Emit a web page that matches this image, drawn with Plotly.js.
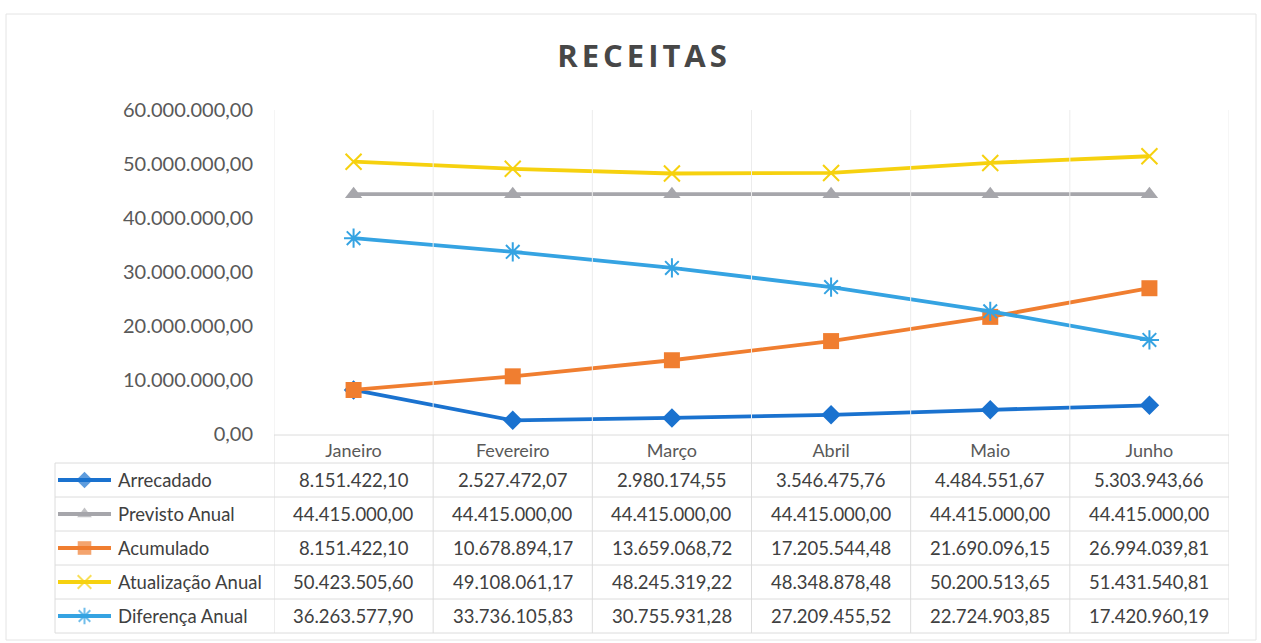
<!DOCTYPE html>
<html>
<head>
<meta charset="utf-8">
<script src="https://cdn.plot.ly/plotly-3.0.1.min.js"></script>
<style>
  html, body { margin: 0; padding: 0; background: #ffffff; }
  #chart { width: 1261px; height: 643px; }
</style>
</head>
<body>
<div id="chart"></div>
<script>
// ---- Data ----
const meses = ['Janeiro', 'Fevereiro', 'Março', 'Abril', 'Maio', 'Junho'];
const arrecadado = [8151422.10, 2527472.07, 2980174.55, 3546475.76, 4484551.67, 5303943.66];
const previstoAnual = [44415000.00, 44415000.00, 44415000.00, 44415000.00, 44415000.00, 44415000.00];
const acumulado = [8151422.10, 10678894.17, 13659068.72, 17205544.48, 21690096.15, 26994039.81];
const atualizacaoAnual = [50423505.60, 49108061.17, 48245319.22, 48348878.48, 50200513.65, 51431540.81];
const diferencaAnual = [36263577.90, 33736105.83, 30755931.28, 27209455.52, 22724903.85, 17420960.19];
const nomesSeries = ['Arrecadado', 'Previsto Anual', 'Acumulado', 'Atualização Anual', 'Diferença Anual'];
const yTicks = [0, 10000000, 20000000, 30000000, 40000000, 50000000, 60000000];

// ---- Styles ----
const W = 1261, H = 643;
const seriesData = [arrecadado, previstoAnual, acumulado, atualizacaoAnual, diferencaAnual];
const styles = [
  { color: '#1a72cf', symbol: 'diamond', size: 15, lw: 0 },
  { color: '#a6a6ab', symbol: 'triangle-up', size: 15, lw: 0 },
  { color: '#f07e30', symbol: 'square', size: 16, lw: 0 },
  { color: '#f6d10f', symbol: 'x-thin-open', size: 16, lw: 2 },
  { color: '#35a3e2', symbol: 'asterisk-open', size: 16, lw: 2 }
];

function fmtBR(v) {
  const neg = v < 0;
  const s = Math.abs(v).toFixed(2);
  const parts = s.split('.');
  const intPart = parts[0].replace(/\B(?=(\d{3})+(?!\d))/g, '.');
  return (neg ? '-' : '') + intPart + ',' + parts[1];
}

// plot geometry (pixels)
const plotL = 274, plotR = 1229, plotT = 110, plotB = 434;
const tableLeft = 55;
const rowLines = [463, 497, 531, 565, 599, 633];
const headerTop = 435;

const traces = [];
seriesData.forEach((vals, i) => {
  const st = styles[i];
  traces.push({
    type: 'scatter', mode: 'lines+markers',
    x: meses, y: vals, name: nomesSeries[i],
    xaxis: 'x', yaxis: 'y',
    line: { color: st.color, width: 3.8 },
    marker: { symbol: st.symbol, size: st.size, color: st.color,
              line: { color: st.color, width: st.lw } },
    showlegend: false, hoverinfo: 'x+y+name'
  });
});

// legend keys inside the data table
seriesData.forEach((vals, i) => {
  const st = styles[i];
  const yc = (rowLines[i] + rowLines[i + 1]) / 2;
  traces.push({
    type: 'scatter', mode: 'lines+markers',
    x: [58, 84.5, 111], y: [yc, yc, yc],
    xaxis: 'x2', yaxis: 'y2',
    line: { color: st.color, width: 3.8 },
    marker: { symbol: st.symbol, size: [0, st.size * 0.85, 0], color: st.color,
              line: { color: st.color, width: st.lw } },
    showlegend: false, hoverinfo: 'skip'
  });
});

const shapes = [];
const gridC = '#ececec', tableC = '#dcdcdc';
// faint vertical gridlines at category boundaries (plot area)
for (let k = 0; k <= meses.length; k++) {
  shapes.push({ type: 'line', xref: 'x', yref: 'y2', x0: k - 0.5, x1: k - 0.5,
    y0: plotT, y1: headerTop, line: { color: gridC, width: 1 } });
  shapes.push({ type: 'line', xref: 'x', yref: 'y2', x0: k - 0.5, x1: k - 0.5,
    y0: headerTop, y1: rowLines[rowLines.length - 1], line: { color: tableC, width: 1 } });
}
// header top line
shapes.push({ type: 'line', xref: 'x2', yref: 'y2', x0: plotL, x1: plotR, y0: headerTop, y1: headerTop,
  line: { color: tableC, width: 1 } });
// row lines
rowLines.forEach(y => {
  shapes.push({ type: 'line', xref: 'x2', yref: 'y2', x0: tableLeft, x1: plotR, y0: y, y1: y,
    line: { color: tableC, width: 1 } });
});
// left border of table
shapes.push({ type: 'line', xref: 'x2', yref: 'y2', x0: tableLeft, x1: tableLeft,
  y0: rowLines[0], y1: rowLines[rowLines.length - 1], line: { color: tableC, width: 1 } });
// chart outer border
shapes.push({ type: 'rect', xref: 'x2', yref: 'y2', x0: 6, x1: 1256, y0: 14, y1: 640,
  line: { color: '#e4e4e4', width: 1 }, layer: 'below' });

const annotations = [];
const textC = '#404040';
seriesData.forEach((vals, i) => {
  const yc = (rowLines[i] + rowLines[i + 1]) / 2;
  annotations.push({ xref: 'x2', yref: 'y2', x: 116, y: yc, xanchor: 'left', yanchor: 'middle',
    text: nomesSeries[i], showarrow: false,
    font: { family: 'Lato, sans-serif', size: 18.5, color: textC } });
  vals.forEach((v, j) => {
    annotations.push({ xref: 'x', yref: 'y2', x: j, y: yc, xanchor: 'center', yanchor: 'middle',
      text: fmtBR(v), showarrow: false,
      font: { family: 'Lato, sans-serif', size: 18.5, color: textC } });
  });
});

const layout = {
  width: W, height: H,
  margin: { l: 0, r: 0, t: 0, b: 0 },
  paper_bgcolor: '#ffffff', plot_bgcolor: 'rgba(0,0,0,0)',
  separators: ',.',
  showlegend: false,
  title: {
    text: 'RECEITAS', x: 644 / W, xanchor: 'center', y: 1 - 56 / H, yanchor: 'middle',
    font: { family: 'Open Sans, sans-serif', size: 31, color: '#474747', weight: 700 }
  },
  xaxis: {
    type: 'category', categoryorder: 'array', categoryarray: meses,
    domain: [plotL / W, plotR / W], range: [-0.5, meses.length - 0.5],
    anchor: 'y', showgrid: false, zeroline: false, showline: false, ticks: '',
    ticklabelstandoff: 4,
    tickfont: { family: 'Lato, sans-serif', size: 18, color: '#595959' }
  },
  yaxis: {
    domain: [1 - plotB / H, 1 - plotT / H], range: [0, 60000000],
    tickmode: 'array', tickvals: yTicks, tickformat: ',.2f',
    anchor: 'x', showgrid: false, zeroline: false, showline: false, ticks: '',
    ticklabelstandoff: 20,
    tickfont: { family: 'Lato, sans-serif', size: 20, color: '#595959' }
  },
  xaxis2: { domain: [0, 1], range: [0, W], visible: false, anchor: 'y2', fixedrange: true },
  yaxis2: { domain: [0, 1], range: [H, 0], visible: false, anchor: 'x2', fixedrange: true },
  shapes: shapes,
  annotations: annotations
};

Plotly.newPlot('chart', traces, layout, { displayModeBar: false, staticPlot: true }).then(gd => {
  const t = gd.querySelector('.gtitle');
  if (t) t.style.letterSpacing = '4px';
});
</script>
</body>
</html>
